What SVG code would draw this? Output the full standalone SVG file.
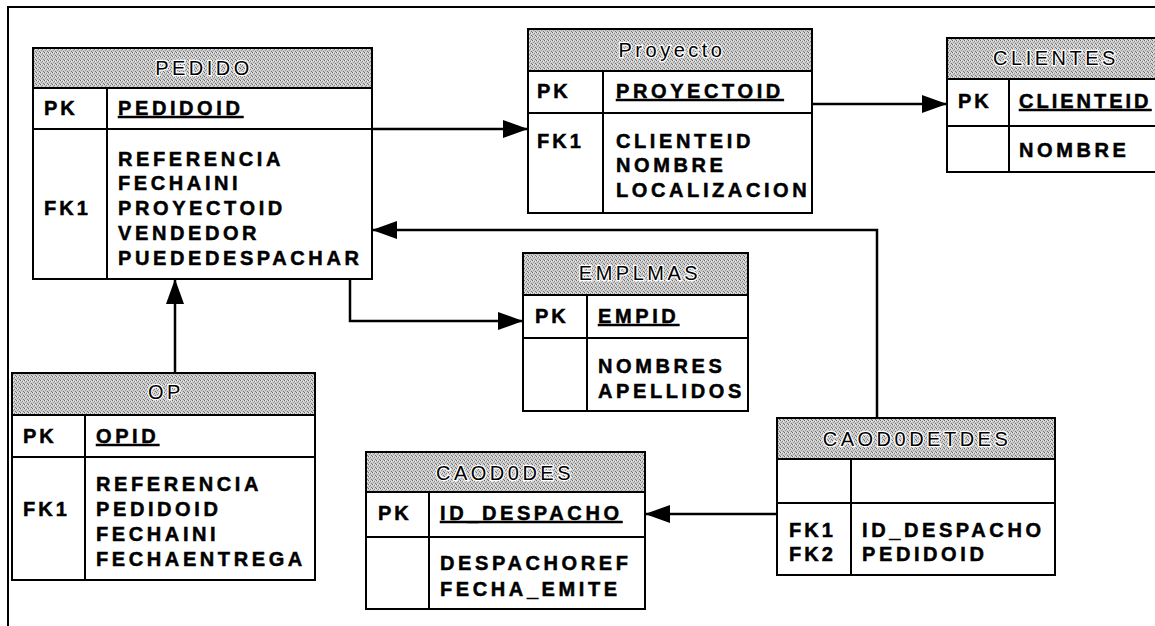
<svg xmlns="http://www.w3.org/2000/svg" width="1155" height="626" viewBox="0 0 1155 626">
  <defs>
    <!-- dithered gray fill for table title bars -->
    <pattern id="dither" width="4" height="4" patternUnits="userSpaceOnUse">
      <rect width="4" height="4" fill="#cccccc"/>
      <rect x="0" y="0" width="1" height="1" fill="#666"/>
      <rect x="2" y="1" width="1" height="1" fill="#858585"/>
      <rect x="1" y="2" width="1" height="1" fill="#999"/>
      <rect x="3" y="3" width="1" height="1" fill="#767676"/>
      <rect x="3" y="1" width="1" height="1" fill="#e8e8e8"/>
      <rect x="1" y="0" width="1" height="1" fill="#ececec"/>
    </pattern>
    <marker id="arrow" markerUnits="userSpaceOnUse" markerWidth="26" markerHeight="20" refX="25" refY="9" orient="auto">
      <path d="M0,0 L25,9 L0,18 Z" fill="#000"/>
    </marker>
    <style>
      .frame { fill: none; stroke: #000; stroke-width: 2; }
      .box { fill: #fff; stroke: #000; stroke-width: 2; }
      .head { fill: url(#dither); stroke: #000; stroke-width: 2; }
      .rule { stroke: #000; stroke-width: 2; }
      .title { font-family: "Liberation Sans", Arial, sans-serif; font-size: 20px; letter-spacing: 3.5px; fill: #000; stroke: #fff; stroke-width: 2.5px; paint-order: stroke; text-anchor: middle; }
      .f { font-family: "Liberation Sans", Arial, sans-serif; font-size: 20px; font-weight: bold; letter-spacing: 3.6px; fill: #000; stroke: #000; stroke-width: 0.5px; }
      .key { font-family: "Liberation Sans", Arial, sans-serif; font-size: 20px; font-weight: bold; letter-spacing: 3px; fill: #000; stroke: #000; stroke-width: 0.5px; }
      .pk { text-decoration: underline; }
      .link { fill: none; stroke: #000; stroke-width: 2.5; marker-end: url(#arrow); }
    </style>
  </defs>

  <rect width="1155" height="626" fill="#fff"/>

  <!-- page frame -->
  <path class="frame" d="M8,626 V7 H1155"/>

  <!-- relationships -->
  <g id="connectors">
    <path class="link" d="M372,129 H528"/>
    <path class="link" d="M812,104 H947"/>
    <path class="link" d="M877,418 V230 H372"/>
    <path class="link" d="M350,279 V321 H523"/>
    <path class="link" d="M175,373 V279"/>
    <path class="link" d="M777,514 H645"/>
  </g>

  <g id="pedido">
    <rect class="box" x="33" y="48" width="339" height="231"/>
    <rect class="head" x="33" y="48" width="339" height="40"/>
    <line class="rule" x1="33" y1="129" x2="372" y2="129"/>
    <line class="rule" x1="107" y1="88" x2="107" y2="279"/>
    <text class="title" x="204" y="75">PEDIDO</text>
    <text class="key" x="44" y="115">PK</text>
    <text class="f pk" x="118" y="115">PEDIDOID</text>
    <text class="key" x="44" y="215">FK1</text>
    <text class="f" x="118" y="166">REFERENCIA</text>
    <text class="f" x="118" y="190">FECHAINI</text>
    <text class="f" x="118" y="215">PROYECTOID</text>
    <text class="f" x="118" y="240">VENDEDOR</text>
    <text class="f" x="118" y="265">PUEDEDESPACHAR</text>
  </g>

  <g id="proyecto">
    <rect class="box" x="528" y="29" width="284" height="184"/>
    <rect class="head" x="528" y="29" width="284" height="42"/>
    <line class="rule" x1="528" y1="113" x2="812" y2="113"/>
    <line class="rule" x1="603" y1="71" x2="603" y2="213"/>
    <text class="title" x="672" y="57">Proyecto</text>
    <text class="key" x="537" y="98">PK</text>
    <text class="f pk" x="616" y="98">PROYECTOID</text>
    <text class="key" x="537" y="148">FK1</text>
    <text class="f" x="616" y="148">CLIENTEID</text>
    <text class="f" x="616" y="172">NOMBRE</text>
    <text class="f" x="616" y="197">LOCALIZACION</text>
  </g>

  <g id="clientes">
    <rect class="box" x="947" y="38" width="215" height="134"/>
    <rect class="head" x="947" y="38" width="215" height="41"/>
    <line class="rule" x1="947" y1="126" x2="1162" y2="126"/>
    <line class="rule" x1="1009" y1="79" x2="1009" y2="172"/>
    <text class="title" x="1056" y="65">CLIENTES</text>
    <text class="key" x="958" y="108">PK</text>
    <text class="f pk" x="1019" y="108" style="letter-spacing:3px">CLIENTEID</text>
    <text class="f" x="1019" y="157">NOMBRE</text>
  </g>

  <g id="emplmas">
    <rect class="box" x="523" y="253" width="225" height="158"/>
    <rect class="head" x="523" y="253" width="225" height="42"/>
    <line class="rule" x1="523" y1="338" x2="748" y2="338"/>
    <line class="rule" x1="587" y1="295" x2="587" y2="411"/>
    <text class="title" x="640" y="280">EMPLMAS</text>
    <text class="key" x="535" y="323">PK</text>
    <text class="f pk" x="598" y="323">EMPID</text>
    <text class="f" x="598" y="373">NOMBRES</text>
    <text class="f" x="598" y="398">APELLIDOS</text>
  </g>

  <g id="op">
    <rect class="box" x="12" y="373" width="303" height="207"/>
    <rect class="head" x="12" y="373" width="303" height="42"/>
    <line class="rule" x1="12" y1="457" x2="315" y2="457"/>
    <line class="rule" x1="85" y1="415" x2="85" y2="580"/>
    <text class="title" x="166" y="399">OP</text>
    <text class="key" x="23" y="443">PK</text>
    <text class="f pk" x="96" y="443">OPID</text>
    <text class="key" x="23" y="516">FK1</text>
    <text class="f" x="96" y="491">REFERENCIA</text>
    <text class="f" x="96" y="516">PEDIDOID</text>
    <text class="f" x="96" y="541">FECHAINI</text>
    <text class="f" x="96" y="566">FECHAENTREGA</text>
  </g>

  <g id="caod0des">
    <rect class="box" x="366" y="452" width="279" height="157"/>
    <rect class="head" x="366" y="452" width="279" height="40"/>
    <line class="rule" x1="366" y1="537" x2="645" y2="537"/>
    <line class="rule" x1="429" y1="492" x2="429" y2="609"/>
    <text class="title" x="505" y="480">CAOD0DES</text>
    <text class="key" x="378" y="520">PK</text>
    <text class="f pk" x="440" y="520">ID_DESPACHO</text>
    <text class="f" x="440" y="570">DESPACHOREF</text>
    <text class="f" x="440" y="596">FECHA_EMITE</text>
  </g>

  <g id="caod0detdes">
    <rect class="box" x="777" y="418" width="278" height="157"/>
    <rect class="head" x="777" y="418" width="278" height="41"/>
    <line class="rule" x1="777" y1="503" x2="1055" y2="503"/>
    <line class="rule" x1="851" y1="459" x2="851" y2="575"/>
    <text class="title" x="917" y="446">CAOD0DETDES</text>
    <text class="key" x="789" y="537">FK1</text>
    <text class="key" x="789" y="561">FK2</text>
    <text class="f" x="862" y="537">ID_DESPACHO</text>
    <text class="f" x="862" y="561">PEDIDOID</text>
  </g>
</svg>
